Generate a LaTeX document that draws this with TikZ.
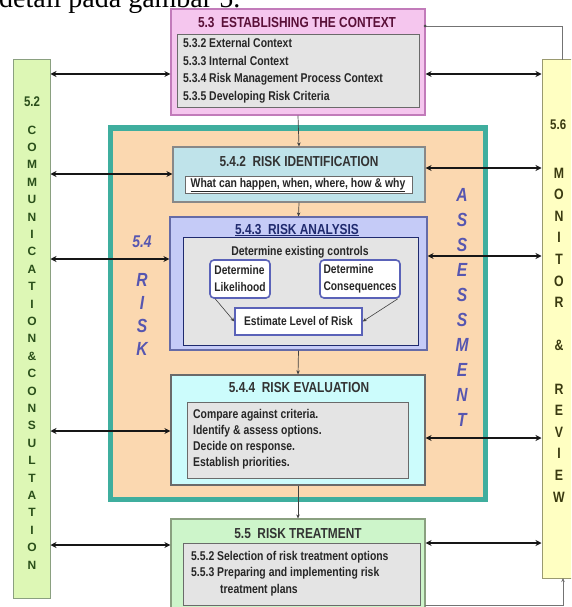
\documentclass[tikz,border=0pt]{standalone}
\usepackage{fontspec}
\setmainfont{Liberation Sans}[FakeStretch=0.82]
\newfontfamily\serifx{Liberation Serif}
\newfontfamily\widex{Liberation Sans}
\usetikzlibrary{arrows.meta,fit}
\definecolor{pinkfill}{HTML}{F5C6EE}
\definecolor{pinkdraw}{HTML}{C27BBA}
\definecolor{maroonx}{HTML}{5A1038}
\definecolor{grayfill}{HTML}{E4E4E4}
\definecolor{graydraw}{HTML}{6A6A6A}
\definecolor{greenfill}{HTML}{DDF7B5}
\definecolor{greendraw}{HTML}{8AA080}
\definecolor{greentext}{HTML}{2A4F1A}
\definecolor{yelfill}{HTML}{FFFFC2}
\definecolor{yeldraw}{HTML}{9A9A70}
\definecolor{yeltext}{HTML}{3A3A10}
\definecolor{tealx}{HTML}{3FAE9E}
\definecolor{orangefill}{HTML}{FBD8B0}
\definecolor{idfill}{HTML}{BFE3EA}
\definecolor{anfill}{HTML}{C5CBF7}
\definecolor{andraw}{HTML}{5A62B8}
\definecolor{evfill}{HTML}{CCFCFC}
\definecolor{trfill}{HTML}{CDF5CA}
\definecolor{navyx}{HTML}{1F2A6E}
\definecolor{riskblue}{HTML}{5656B0}
\definecolor{inkx}{HTML}{161616}
\newcommand{\rbox}[6]{\node[fit={(#2,#3)(#4,#5)}, inner sep=0pt, #6] (#1) {};}
\tikzset{
  title/.style={font=\bfseries\fontsize{14.5}{15}\selectfont, inner sep=0pt},
  item/.style={font=\bfseries\fontsize{12.7}{13}\selectfont, inner sep=0pt, anchor=west, text=black!85},
  dbl/.style={{Stealth[length=6pt,width=6pt]}-{Stealth[length=6pt,width=6pt]}, line width=2.2pt, draw=inkx},
  conn/.style={-{Stealth[length=4pt,width=3.5pt]}, line width=0.7pt, draw=black!75},
  thinl/.style={line width=0.8pt, draw=black!55},
  colletter/.style={font=\widex\bfseries\fontsize{12}{12}\selectfont, text=greentext, inner sep=0pt},
  monletter/.style={font=\bfseries\fontsize{15}{15}\selectfont, text=yeltext, inner sep=0pt},
  riskletter/.style={font=\bfseries\itshape\fontsize{19}{19}\selectfont, text=riskblue, inner sep=0pt},
}
\begin{document}
\begin{tikzpicture}[x=1pt,y=-1pt]
\clip (0,0) rectangle (571,607);
% heading fragment
\node[anchor=base west, inner sep=0pt, font=\serifx\fontsize{28}{28}\selectfont] (head) at (-1,8) {detail pada gambar 5.};
% side columns
\rbox{com}{13}{60}{50}{598}{draw=greendraw, fill=greenfill, line width=1pt}
\rbox{mon}{542}{60}{580}{578}{draw=yeldraw, fill=yelfill, line width=1pt}
% assessment frame
\rbox{frame}{108}{125}{488}{502}{fill=tealx}
\rbox{ass}{113}{131}{483}{497}{fill=orangefill}
% 5.3
\rbox{ctx}{171}{9}{425}{115}{draw=pinkdraw, fill=pinkfill, line width=1.2pt}
\rbox{ctxin}{177}{35}{419}{108}{draw=graydraw, fill=grayfill, line width=1pt}
\node[title, text=maroonx] (ctxt) at (297,23) {5.3\ \ ESTABLISHING THE CONTEXT};
\node[item] (c1) at (183,43) {5.3.2 External Context};
\node[item] (c2) at (183,61) {5.3.3 Internal Context};
\node[item] (c3) at (183,79) {5.3.4 Risk Management Process Context};
\node[item] (c4) at (183,97) {5.3.5 Developing Risk Criteria};
% 5.4.2
\rbox{id}{173}{147}{425}{202}{draw=graydraw!80, fill=idfill, line width=1.2pt}
\rbox{idin}{185}{176}{412}{193}{draw=graydraw, fill=white, line width=1pt}
\node[title, text=black!80] (idt) at (299,162) {5.4.2\ \ RISK IDENTIFICATION};
\node[item, anchor=center] (idq) at (298,185) {\underline{What can happen, when, where, how \& why}};
% 5.4.3
\rbox{an}{170}{217}{427}{350}{draw=andraw!70!gray, fill=anfill, line width=1.2pt}
\rbox{anin}{183}{237}{418}{345}{draw=navyx, fill=grayfill, line width=1pt}
\node[title, text=navyx, anchor=base] (ant) at (297,234) {\underline{5.4.3\ \ RISK ANALYSIS}};
\node[item, anchor=center] (and) at (300,252) {Determine existing controls};
\node[draw=andraw, line width=1.6pt, fill=white, rounded corners=4pt, minimum width=60pt, minimum height=38pt, inner sep=1pt, align=left, font=\bfseries\fontsize{12.5}{17}\selectfont, text=black!85] (lik) at (240,279) {Determine\\Likelihood};
\node[draw=andraw, line width=1.6pt, fill=white, rounded corners=4pt, minimum width=80pt, minimum height=38pt, inner sep=1pt, align=left, font=\bfseries\fontsize{12.5}{17}\selectfont, text=black!85] (con) at (360,279) {Determine\\Consequences};
\node[draw=andraw, line width=1.4pt, fill=white, minimum width=127pt, minimum height=27pt, inner sep=0pt, font=\bfseries\fontsize{12.5}{13}\selectfont, text=black!85] (est) at (298.5,321.5) {Estimate Level of Risk};
\draw[conn, line width=0.6pt] (lik.south west) ++(6,0) -- (est.west);
\draw[conn, line width=0.6pt] (con.south east) ++(-3,0) -- (est.east);
% 5.4.4
\rbox{ev}{171}{375}{425}{485}{draw=graydraw, fill=evfill, line width=1.2pt}
\rbox{evin}{187}{402}{408}{478}{draw=graydraw, fill=grayfill, line width=1pt}
\node[title, text=black!80] (evt) at (299,388) {5.4.4\ \ RISK EVALUATION};
\node[item] (e1) at (193,415) {Compare against criteria.};
\node[item] (e2) at (193,431) {Identify \& assess options.};
\node[item] (e3) at (193,447) {Decide on response.};
\node[item] (e4) at (193,463) {Establish priorities.};
% 5.5
\rbox{tr}{171}{519}{425}{615}{draw=greendraw, fill=trfill, line width=1.2pt}
\rbox{trin}{183}{543}{420}{605}{draw=graydraw, fill=grayfill, line width=1pt}
\node[title, text=black!80] (trt) at (298,534) {5.5\ \ RISK TREATMENT};
\node[item] (t1) at (191,557) {5.5.2 Selection of risk treatment options};
\node[item] (t2) at (191,573) {5.5.3 Preparing and implementing risk};
\node[item] (t3) at (220,590) {treatment plans};
% side labels
\node[font=\bfseries\fontsize{14}{14}\selectfont, text=greentext, inner sep=0pt] (l52) at (32,102) {5.2};
\foreach \l [count=\i] in {C,O,M,M,U,N,I,C,A,T,I,O,N,\&,C,O,N,S,U,L,T,A,T,I,O,N}
  \node[colletter] (cc\i) at (32,{130+(\i-1)*17.4}) {\l};
\node[font=\bfseries\fontsize{14}{14}\selectfont, text=yeltext, inner sep=0pt, anchor=west] (l56) at (550,125) {5.6};
\foreach \l [count=\i] in {M,O,N,I,T,O,R,{},\&,{},R,E,V,I,E,W}
  \node[monletter] (mm\i) at (559,{173+(\i-1)*21.6}) {\l};
\node[font=\bfseries\itshape\fontsize{17}{17}\selectfont, text=riskblue, inner sep=0pt] (l54) at (142,242) {5.4};
\foreach \l [count=\i] in {R,I,S,K}
  \node[riskletter] (rk\i) at (142,{280+(\i-1)*23}) {\l};
\foreach \l [count=\i] in {A,S,S,E,S,S,M,E,N,T}
  \node[riskletter] (as\i) at (462,{195+(\i-1)*25}) {\l};
% vertical flow
\draw[conn] (ctx.south) -- (id.north);
\draw[conn] (id.south) -- (an.north);
\draw[conn] (an.south) -- (ev.north);
\draw[conn] (ev.south) -- (tr.north);
% feedback lines to monitor
\coordinate (fa) at (425,26);
\coordinate (fb) at (562,60);
\draw[thinl] (fa) -| (fb);
\fill[black!70] (fa) circle (1.5pt);
\coordinate (fc) at (425,605);
\coordinate (fd) at (563,578);
\draw[thinl, -{Stealth[length=4pt,width=3.5pt]}] (fc) -| (fd);
% double arrows
\draw[dbl] (com.east |- 0,74) -- (ctx.west |- 0,74);
\draw[dbl] (ctx.east |- 0,74) -- (mon.west |- 0,74);
\draw[dbl] (com.east |- 0,174) -- (id.west |- 0,174);
\draw[dbl] (id.east |- 0,168) -- (mon.west |- 0,168);
\draw[dbl] (com.east |- 0,259) -- (an.west |- 0,259);
\draw[dbl] (an.east |- 0,256) -- (mon.west |- 0,256);
\draw[dbl] (com.east |- 0,431) -- (ev.west |- 0,431);
\draw[dbl] (ev.east |- 0,438) -- (mon.west |- 0,438);
\draw[dbl] (com.east |- 0,545) -- (tr.west |- 0,545);
\draw[dbl] (tr.east |- 0,543) -- (mon.west |- 0,543);
\end{tikzpicture}
\end{document}
